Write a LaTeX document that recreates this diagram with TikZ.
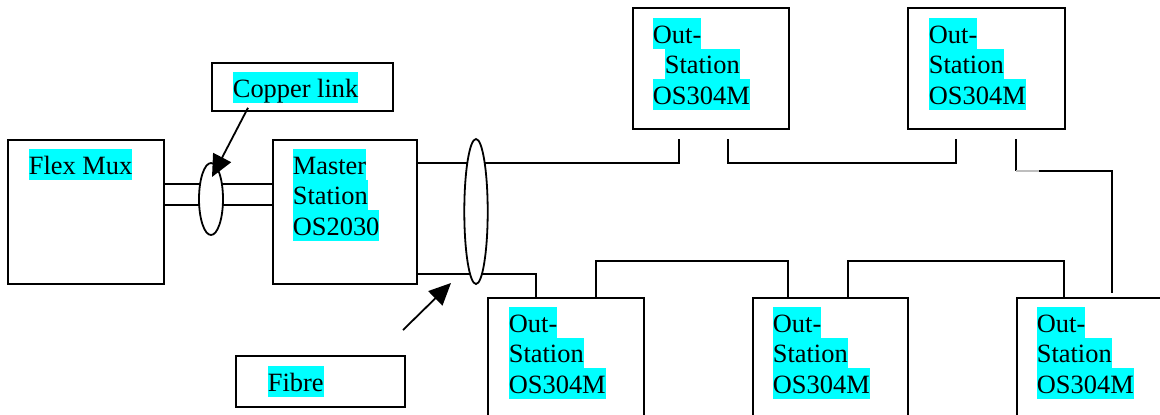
\documentclass[tikz,border=0pt]{standalone}
\usepackage{fontspec}
\setmainfont{Liberation Serif}
\usetikzlibrary{arrows.meta,shapes.geometric}
\definecolor{hlc}{RGB}{0,255,255}
\definecolor{lgray}{RGB}{190,190,190}
\begin{document}
\begin{tikzpicture}[x=0.5pt,y=-0.5pt,line width=0.9pt,
  box/.style={draw,anchor=north west,inner sep=0pt,fill=white},
  hl/.style={fill=hlc,inner sep=0pt,text height=12.5pt,text depth=3pt,anchor=base west,font=\fontsize{13.2}{15}\selectfont},
  ring/.style={draw,ellipse,fill=white,inner sep=0pt},
  arr/.style={-{Triangle[length=11pt,width=10pt]}}]
\clip (0,0) rectangle (1160,414);
\fill[white] (0,0) rectangle (1160,414);
% boxes
\node[box,minimum width=78pt,minimum height=72pt] (fm) at (7,139) {};
\node[box,minimum width=72pt,minimum height=72pt] (ms) at (272,139) {};
\node[box,minimum width=90.5pt,minimum height=24pt] (cl) at (211,62) {};
\node[box,minimum width=84.5pt,minimum height=25.5pt] (fb) at (235,355) {};
\node[box,minimum width=78pt,minimum height=60.5pt] (o1) at (632,7) {};
\node[box,minimum width=78.5pt,minimum height=60.5pt] (o2) at (907,7) {};
\node[box,minimum width=78pt,minimum height=70pt] (b1) at (487,297) {};
\node[box,minimum width=77.5pt,minimum height=70pt] (b2) at (752,297) {};
\node[box,minimum width=85pt,minimum height=70pt] (b3) at (1016,297) {};
% texts
\node[hl] (tfm) at (28,174) {Flex Mux};
\node[hl] (tm1) at (292,174) {Master};
\node[hl] (tm2) at (292,204.5) {Station};
\node[hl] (tm3) at (292,235) {OS2030};
\node[hl] (tcl) at (232,97) {Copper link};
\node[hl] (tfb) at (267,391) {Fibre};
\node[hl] (ta1) at (652,43) {Out-};
\node[hl] (ta2) at (664,73.5) {Station};
\node[hl] (ta3) at (652,104) {OS304M};
\node[hl] (tb1) at (928,43) {Out-};
\node[hl] (tb2) at (928,73.5) {Station};
\node[hl] (tb3) at (928,104) {OS304M};
\node[hl] (tc1) at (508,332) {Out-};
\node[hl] (tc2) at (508,362.5) {Station};
\node[hl] (tc3) at (508,393) {OS304M};
\node[hl] (td1) at (772,332) {Out-};
\node[hl] (td2) at (772,362.5) {Station};
\node[hl] (td3) at (772,393) {OS304M};
\node[hl] (te1) at (1036,332) {Out-};
\node[hl] (te2) at (1036,362.5) {Station};
\node[hl] (te3) at (1036,393) {OS304M};
% copper wires
\draw ([yshift=-22.5pt]fm.north east) -- ([yshift=-22.5pt]ms.north west);
\draw ([yshift=-33pt]fm.north east) -- ([yshift=-33pt]ms.north west);
% fibre lines
\coordinate (t1) at (679,139);
\coordinate (t2) at (728,139);
\coordinate (t3) at (956,139);
\coordinate (t4) at (1016,139);
\coordinate (g1) at (1016,171);
\coordinate (g2) at (1039,171);
\draw ([yshift=-12pt]ms.north east) -| (t1);
\draw (t2) -- ++(0,24) -| (t3);
\draw (t4) -- (g1);
\draw[lgray] (g1) -- (g2);
\draw (g2) -| ([xshift=48pt,yshift=2pt]b3.north west);
\draw ([yshift=5.5pt]ms.south east) -| ([xshift=24.5pt]b1.north west);
\draw ([xshift=54.5pt]b1.north west) -- ++(0,-36) -| ([xshift=18pt]b2.north west);
\draw ([xshift=48pt]b2.north west) -- ++(0,-36) -| ([xshift=24pt]b3.north west);
% rings
\node[ring,minimum width=12pt,minimum height=36pt] (ce) at (211,199) {};
\node[ring,minimum width=11.7pt,minimum height=72.5pt] (fe) at (476,211.5) {};
% arrows
\coordinate (fa) at (403,330);
\draw[arr] ([xshift=18.5pt,yshift=2pt]cl.south west) -- ([xshift=0.5pt,yshift=11pt]ce.center);
\draw[arr] (fa) -- ([xshift=-12.5pt,yshift=-35.75pt]fe.center);
\end{tikzpicture}
\end{document}
